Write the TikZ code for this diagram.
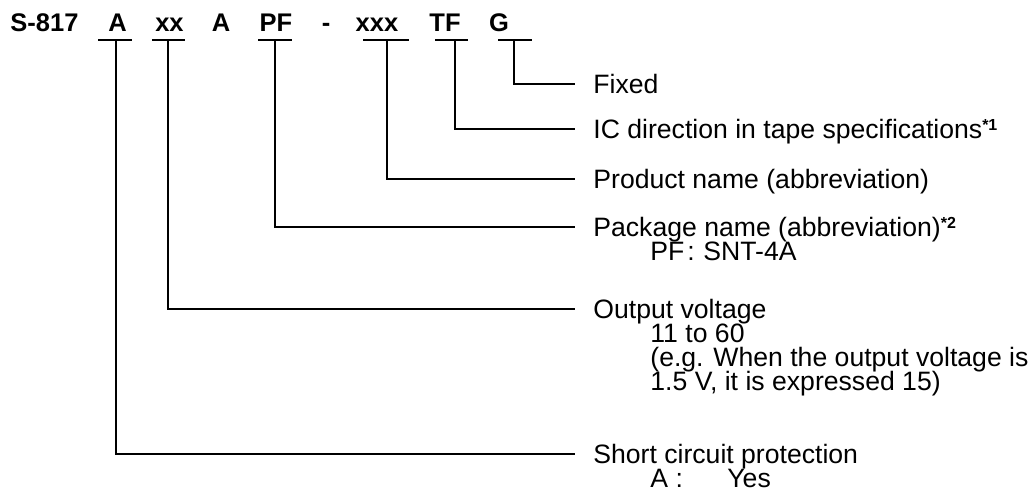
\documentclass[tikz,border=0pt]{standalone}
\usepackage{fontspec}
\setmainfont{Liberation Sans}
\usepackage{tikz}
\usetikzlibrary{positioning}
\tikzstyle{code}=[inner sep=0pt, font=\fontsize{12.75pt}{15pt}\selectfont\bfseries, anchor=base]
\tikzstyle{lbl}=[inner sep=0pt, font=\fontsize{13.3pt}{12pt}\selectfont, text height=9.5pt, text depth=0pt, anchor=west]
\tikzstyle{rule}=[line width=1pt]
\newcommand{\note}[1]{\raisebox{4pt}{\fontsize{8pt}{8pt}\selectfont\bfseries *#1}}

\begin{document}
\begin{tikzpicture}[x=0.5pt, y=-0.5pt]
	\useasboundingbox (0,0) rectangle (1032,496);
%
	\node[code, anchor=base west] (s817) at (10,31.5) {S-817};
	\node[code] (cA) at (117.5,31.5) {A};
	\node[code] (cxx) at (169.5,31.5) {xx};
	\node[code] (cA2) at (221,31.5) {A};
	\node[code] (cPF) at (276,31.5) {PF};
	\node[code] (cdash) at (326,31.5) {-};
	\node[code] (cxxx) at (377,31.5) {xxx};
	\node[code] (cTF) at (445,31.5) {TF};
	\node[code] (cG) at (499,31.5) {G};
%
	\coordinate (tA) at (116,40);
	\coordinate (txx) at (168,40);
	\coordinate (tPF) at (275,40);
	\coordinate (txxx) at (387,40);
	\coordinate (tTF) at (455,40);
	\coordinate (tG) at (514,40);
%
	\coordinate (eFixed) at (575,84);
	\coordinate (eTape) at (575,129);
	\coordinate (eProd) at (575,179);
	\coordinate (ePack) at (575,227);
	\coordinate (eVolt) at (575,309);
	\coordinate (eShort) at (575,454);
%
	\draw[rule] (98,40) -- (132,40)  (152,40) -- (185,40)  (258,40) -- (292,40);
	\draw[rule] (363,40) -- (409,40)  (435,40) -- (468,40)  (498,40) -- (532,40);
%
	\draw[rule] (tG) |- (eFixed);
	\draw[rule] (tTF) |- (eTape);
	\draw[rule] (txxx) |- (eProd);
	\draw[rule] (tPF) |- (ePack);
	\draw[rule] (txx) |- (eVolt);
	\draw[rule] (tA) |- (eShort);
%
	\node[lbl, right=9pt of eFixed] (lFixed) {Fixed};
	\node[lbl, right=9pt of eTape] (lTape) {IC direction in tape specifications\note{1}};
	\node[lbl, right=9pt of eProd] (lProd) {Product name (abbreviation)};
	\node[lbl, right=9pt of ePack] (lPack) {Package name (abbreviation)\note{2}};
	\node[lbl] (lPF) at (650,251) {PF\kern1.5pt:};
	\node[lbl] (lSNT) at (703,251) {SNT-4A};
	\node[lbl, right=9pt of eVolt] (lVolt) {Output voltage};
	\node[lbl] (lRange) at (650,333) {11 to 60};
	\node[lbl] (lEg) at (650,357) {(e.g. When the output voltage is};
	\node[lbl] (lEx) at (650,381) {1.5 V, it is expressed 15)};
	\node[lbl, right=9pt of eShort] (lShort) {Short circuit protection};
	\node[lbl] (lA) at (650,478) {A :};
	\node[lbl] (lYes) at (727,478) {Yes};
\end{tikzpicture}
\end{document}
